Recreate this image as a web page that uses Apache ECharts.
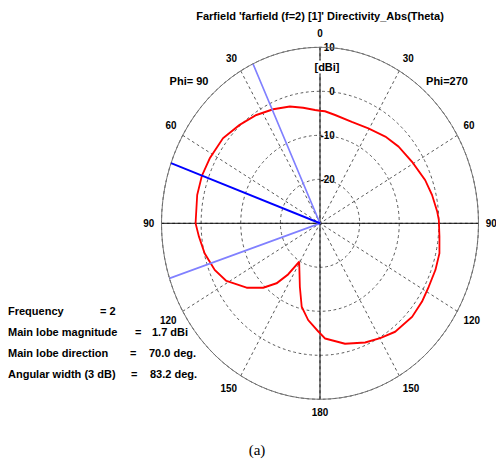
<!DOCTYPE html>
<html>
<head>
<meta charset="utf-8">
<script src="https://cdn.jsdelivr.net/npm/echarts@6/dist/echarts.min.js"></script>
<style>
  html, body { margin: 0; padding: 0; background: #fff; }
  #wrap { position: relative; width: 496px; height: 462px; overflow: hidden; }
  /* CST draws the polar frame slightly narrower than tall */
  #polarChart { position: absolute; left: 0; top: 0; width: 580px; height: 462px;
                transform: scaleX(0.9006); transform-origin: 320px 0; }
  #textChart { position: absolute; left: 0; top: 0; width: 496px; height: 462px; pointer-events: none; }
</style>
</head>
<body>
<div id="wrap">
  <div id="polarChart"></div>
  <div id="textChart"></div>
</div>
<script>
// Farfield directivity cut: angle in degrees (0..180 = Phi 90 half, 180..360 = Phi 270 half)
const patternAngles = [
  0, 2.8, 9.2, 16.0, 24.5, 33.1, 42.2, 51.7, 62.1, 70.0, 78.3, 90.0,
  95.7, 103.2, 111.8, 119.0, 128.3, 135.6, 141.2, 145.3, 149.0, 160.6, 166.3, 172.3,
  179.0, 182.8, 193.0, 202.8, 210.2, 217.6, 227.6, 235.3, 242.3, 250.0, 257.3, 264.2,
  271.4, 275.1, 282.8, 290.3, 301.1, 311.3, 320.1, 330.5, 340.8, 351.2, 357.2, 360
];
// Directivity_Abs(Theta) in dBi
const patternDirectivity = [
  -4.4, -4.2, -3.4, -2.4, -1.5, -0.6, 0.2, 1.2, 1.5, 1.7, 1.65, 1.4,
  0.7, -0.1, -1.4, -3.0, -6.4, -9.5, -12.5, -15.9, -19.8, -14.7, -10.5, -7.8,
  -5.4, -3.8, -1.9, -0.6, 0.2, 1.1, 1.5, 1.3, 1.0, 1.0, 0.9, 0.3,
  0.0, -0.3, -1.0, -1.7, -2.9, -3.6, -4.3, -5.2, -5.6, -5.1, -4.5, -4.4
];
// Summary values
const frequency = 2;
const mainLobeMagnitude = 1.7;   // dBi
const mainLobeDirection = 70.0;  // deg
const beamEdges = [25.0, 108.2]; // 3 dB edges, deg
const angularWidth = beamEdges[1] - beamEdges[0];
// Axes
const radiusMin = -30, radiusMax = 10, radiusStep = 10;
const angleStep = 30;

const FONT = '"Liberation Sans", Arial, sans-serif';
const CX = 320, CY = 223.3, R = 176;

const polarChart = echarts.init(document.getElementById('polarChart'), null, { renderer: 'svg' });
polarChart.setOption({
  animation: false,
  polar: [
    { center: [CX, CY], radius: R },
    { center: [CX, CY], radius: R }
  ],
  angleAxis: [
    {
      polarIndex: 0, type: 'value', min: 0, max: 360, interval: angleStep,
      startAngle: 90, clockwise: false, z: 1,
      axisLine: { show: true, lineStyle: { color: '#707070', width: 1 } },
      axisTick: { show: false },
      axisLabel: {
        margin: 8, color: '#000', fontSize: 11, fontWeight: 'bold', fontFamily: FONT,
        formatter: v => String(v <= 180 ? v : 360 - v)
      },
      splitLine: { show: true, lineStyle: { color: '#505050', width: 1, type: [3, 3] } }
    },
    {
      polarIndex: 1, type: 'value', min: 0, max: 360, interval: 90,
      startAngle: 90, clockwise: false, z: 1,
      axisLine: { show: false }, axisTick: { show: false }, axisLabel: { show: false },
      splitLine: { show: true, lineStyle: { color: '#000', width: 1 } }
    }
  ],
  radiusAxis: [
    {
      polarIndex: 0, type: 'value', min: radiusMin, max: radiusMax, interval: radiusStep,
      axisLine: { show: false }, axisTick: { show: false },
      axisLabel: {
        margin: -16.5, align: 'right', padding: [0, 0, 5, 0],
        color: '#000', fontSize: 11, fontWeight: 'bold', fontFamily: FONT,
        formatter: v => (v === radiusMin ? '' : String(v))
      },
      splitLine: { show: true, lineStyle: { color: '#505050', width: 1, type: [3, 3] } }
    },
    {
      polarIndex: 1, type: 'value', min: radiusMin, max: radiusMax, interval: radiusStep,
      axisLine: { show: false }, axisTick: { show: false }, axisLabel: { show: false },
      splitLine: { show: false }
    }
  ],
  series: [
    {
      name: 'Directivity', type: 'line', coordinateSystem: 'polar', polarIndex: 0,
      data: patternAngles.map((a, i) => [patternDirectivity[i], a]),
      showSymbol: false, symbol: 'none', smooth: false, z: 3,
      lineStyle: { color: '#ff0000', width: 2 }
    },
    {
      name: '3 dB width', type: 'line', coordinateSystem: 'polar', polarIndex: 0,
      data: [[radiusMax, beamEdges[0]], [radiusMin, beamEdges[0]], [radiusMax, beamEdges[1]]],
      showSymbol: false, symbol: 'none', z: 4,
      lineStyle: { color: '#8080ff', width: 1.8 }
    },
    {
      name: 'Main lobe', type: 'line', coordinateSystem: 'polar', polarIndex: 0,
      data: [[radiusMin, mainLobeDirection], [radiusMax, mainLobeDirection]],
      showSymbol: false, symbol: 'none', z: 5,
      lineStyle: { color: '#0000ff', width: 2 }
    }
  ]
});

function txt(x, y, text, align, font, extra) {
  return {
    type: 'text', x: x, y: y, silent: true,
    style: Object.assign({
      text: text, fill: '#000', font: font || ('bold 11px ' + FONT),
      align: align, textAlign: align, verticalAlign: 'middle', textVerticalAlign: 'middle'
    }, extra || {})
  };
}

const textChart = echarts.init(document.getElementById('textChart'), null, { renderer: 'svg' });
textChart.setOption({
  animation: false,
  graphic: [
    txt(320, 16, "Farfield 'farfield (f=2) [1]' Directivity_Abs(Theta)", 'center'),
    txt(189, 81, 'Phi= 90', 'center'),
    txt(447, 81, 'Phi=270', 'center'),
    txt(327, 67, '[dBi]', 'center', null, { backgroundColor: '#fff', padding: [1, 1, 1, 1] }),
    txt(8, 311, 'Frequency', 'left'),
    txt(100, 311, '= ' + frequency, 'left'),
    txt(8, 332, 'Main lobe magnitude', 'left'),
    txt(135, 332, '=', 'left'),
    txt(152, 332, mainLobeMagnitude.toFixed(1) + ' dBi', 'left'),
    txt(8, 353, 'Main lobe direction', 'left'),
    txt(130, 353, '=', 'left'),
    txt(149, 353, mainLobeDirection.toFixed(1) + ' deg.', 'left'),
    txt(8, 374, 'Angular width (3 dB)', 'left'),
    txt(131, 374, '=', 'left'),
    txt(150, 374, angularWidth.toFixed(1) + ' deg.', 'left'),
    txt(257, 450, '(a)', 'center', '15px "Liberation Serif", "Times New Roman", serif')
  ]
});
</script>
</body>
</html>
